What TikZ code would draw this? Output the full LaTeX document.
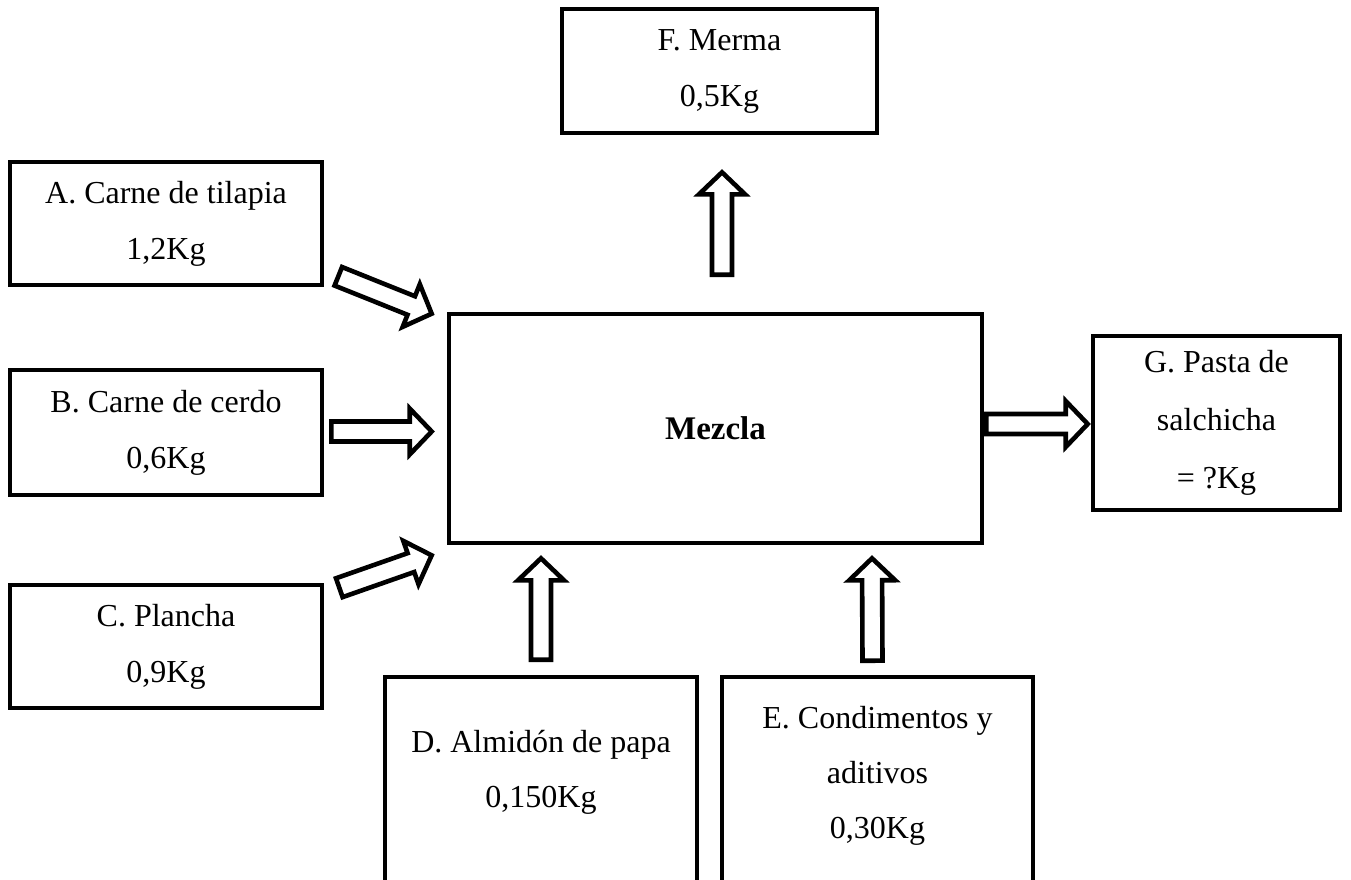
\documentclass[tikz,border=0pt]{standalone}
\usepackage{fontspec}
\setmainfont{Liberation Serif}
\usetikzlibrary{calc}
\tikzset{
  box/.style={draw, line width=4.6pt, rectangle, inner sep=0pt, align=center,
    font=\fontsize{32}{56}\selectfont},
  boxtext/.style={inner sep=0pt, align=center, font=\fontsize{32}{55}\selectfont},
  flowarrow/.style={draw, fill=white, line width=4.6pt, line join=miter, miter limit=10},
}
\newcommand\blockarr[2]{%
  \draw[flowarrow] let \p1=(#1), \p2=(#2),
    \n1={atan2(\y2-\y1,\x2-\x1)}, \n2={veclen(\x2-\x1,\y2-\y1)} in
    [shift={(\p1)}, rotate=\n1]
    (0pt,-10pt) -- ({\n2*1pt-22pt},-10pt) -- ({\n2*1pt-22pt},-23pt) -- ({\n2*1pt},0pt)
    -- ({\n2*1pt-22pt},23pt) -- ({\n2*1pt-22pt},10pt) -- (0pt,10pt) -- cycle;}
\begin{document}
\begin{tikzpicture}[x=1pt, y=-1pt]
\useasboundingbox[fill=white] (0,0) rectangle (1351,879);
% boxes
\node[box, minimum width=315, minimum height=124] (F) at (719.5,71) {F. Merma\\0,5Kg};
\node[box, minimum width=312, minimum height=123] (A) at (166,223.5) {A. Carne de tilapia\\1,2Kg};
\node[box, minimum width=312, minimum height=125] (B) at (166,432.5) {B. Carne de cerdo\\0,6Kg};
\node[box, minimum width=312, minimum height=123] (C) at (166,646.5) {C. Plancha\\0,9Kg};
\node[box, minimum width=533, minimum height=229] (M) at (715.5,428.5) {\fontsize{33}{40}\selectfont\textbf{Mezcla}};
\node[box, minimum width=247, minimum height=174, font=\fontsize{32}{58}\selectfont] (G) at (1216.5,423) {G. Pasta de\\salchicha\\= ?Kg};
\node[box, minimum width=312, minimum height=243] (D) at (541,798.5) {};
\node[box, minimum width=311, minimum height=243] (E) at (877.5,798.5) {};
\node[boxtext] (Dt) at (541,772) {D. Almidón de papa\\0,150Kg};
\node[boxtext] (Et) at (877.5,776) {E. Condimentos y\\aditivos\\0,30Kg};
% arrow end points
\coordinate (a1) at ($(A.south east)+(14,-11)$);
\coordinate (a2) at ($(M.north west)+(-15,2)$);
\coordinate (b1) at ($(B.east)+(7,-1)$);
\coordinate (b2) at ($(M.west)+(-15,3)$);
\coordinate (c1) at ($(C.north east)+(15,5)$);
\coordinate (c2) at ($(M.south west)+(-15,10)$);
\coordinate (d1) at ($(D.north)+(0,-15)$);
\coordinate (d2) at ($(M.south)+(-174.5,13)$);
\coordinate (e1) at ($(E.north)+(-5,-14)$);
\coordinate (e2) at ($(M.south)+(156.5,13)$);
\coordinate (f1) at ($(M.north)+(6.5,-37)$);
\coordinate (f2) at ($(F.south)+(2.5,37)$);
\coordinate (g1) at ($(M.east)+(2,-4.5)$);
\coordinate (g2) at ($(G.west)+(-3,1)$);
\blockarr{a1}{a2}
\blockarr{b1}{b2}
\blockarr{c1}{c2}
\blockarr{d1}{d2}
\blockarr{e1}{e2}
\blockarr{f1}{f2}
\blockarr{g1}{g2}
\end{tikzpicture}
\end{document}
